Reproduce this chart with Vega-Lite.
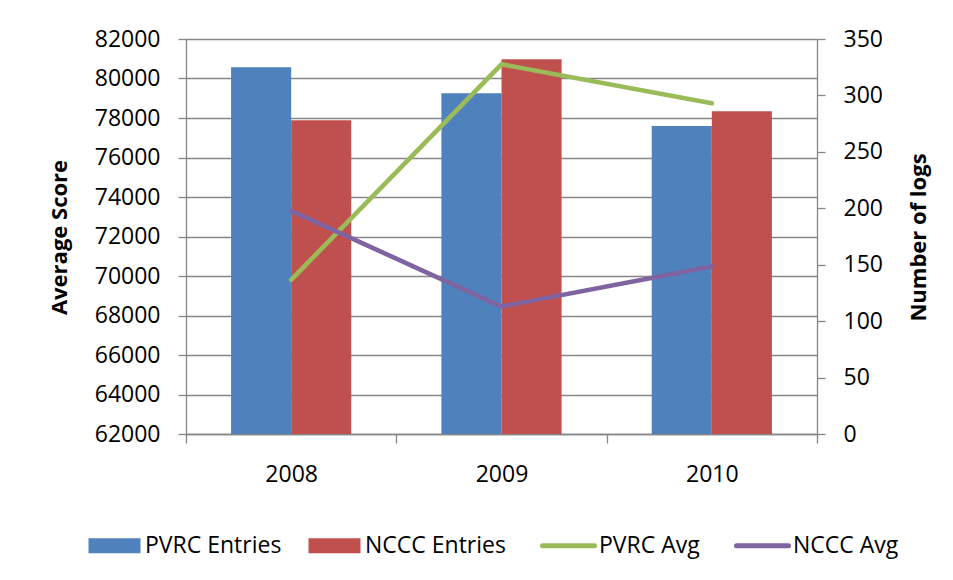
{
  "$schema": "https://vega.github.io/schema/vega-lite/v6.json",
  "width": 631,
  "height": 395,
  "autosize": "none",
  "padding": {"left": 186, "top": 39, "right": 136, "bottom": 146},
  "background": "white",
  "config": {
    "view": {"stroke": null},
    "font": "Open Sans",
    "axis": {
      "labelFont": "Open Sans",
      "labelFontSize": 23,
      "labelColor": "#000000",
      "titleFont": "Open Sans",
      "titleColor": "#000000",
      "domainColor": "#868686",
      "tickColor": "#868686",
      "gridColor": "#868686",
      "domainWidth": 1.3,
      "tickWidth": 1.3,
      "gridWidth": 1.3
    },
    "legend": {"labelFont": "Open Sans"}
  },
  "datasets": {
    "entries": [
      {"year": "2008", "series": "PVRC Entries", "logs": 325},
      {"year": "2008", "series": "NCCC Entries", "logs": 278},
      {"year": "2009", "series": "PVRC Entries", "logs": 302},
      {"year": "2009", "series": "NCCC Entries", "logs": 332},
      {"year": "2010", "series": "PVRC Entries", "logs": 273},
      {"year": "2010", "series": "NCCC Entries", "logs": 286}
    ],
    "averages": [
      {"year": "2008", "series": "PVRC Avg", "score": 69807},
      {"year": "2009", "series": "PVRC Avg", "score": 80720},
      {"year": "2010", "series": "PVRC Avg", "score": 78747},
      {"year": "2008", "series": "NCCC Avg", "score": 73298},
      {"year": "2009", "series": "NCCC Avg", "score": 68456},
      {"year": "2010", "series": "NCCC Avg", "score": 70480}
    ]
  },
  "layer": [
    {
      "data": {"name": "averages"},
      "mark": {"type": "line", "strokeWidth": 4.6, "strokeCap": "round", "opacity": 0},
      "encoding": {
        "x": {
          "field": "year", "type": "nominal",
          "scale": {"paddingInner": 0, "paddingOuter": 0},
          "axis": {
            "title": null, "labelAngle": 0, "tickBand": "extent", "tickSize": 9,
            "labelPadding": 20, "labelBaseline": "top", "grid": false
          }
        },
        "y": {
          "field": "score", "type": "quantitative",
          "scale": {"domain": [62000, 82000], "nice": false, "zero": false},
          "axis": {
            "orient": "left",
            "values": [62000, 64000, 66000, 68000, 70000, 72000, 74000, 76000, 78000, 80000, 82000],
            "format": "d",
            "grid": true,
            "tickSize": 8,
            "labelPadding": 18,
            "title": "Average Score",
            "titleFontSize": 22,
            "titleFontWeight": "bold",
            "titleAngle": -90,
            "titleAlign": "center",
            "titleBaseline": "alphabetic",
            "titleX": -120,
            "titleY": 198
          }
        },
        "color": {
          "field": "series", "type": "nominal",
          "scale": {
            "domain": ["PVRC Entries", "NCCC Entries", "PVRC Avg", "NCCC Avg"],
            "range": ["#4F81BD", "#C0504D", "#9BBB59", "#8064A2"]
          },
          "legend": {
            "orient": "none",
            "legendX": -83,
            "legendY": 495,
            "direction": "horizontal",
            "columns": 4,
            "title": null,
            "padding": 0,
            "symbolSize": 2704,
            "labelFontSize": 23,
            "labelColor": "#000000",
            "labelOffset": 19,
            "columnPadding": 26,
            "labelLimit": 300,
            "encode": {
              "symbols": {
                "update": {
                  "shape": {"signal": "indexof(['PVRC Avg','NCCC Avg'], datum.value) >= 0 ? 'M-1,0H1' : 'M-1,-0.29H1V0.29H-1Z'"},
                  "strokeWidth": {"signal": "indexof(['PVRC Avg','NCCC Avg'], datum.value) >= 0 ? 5 : 0"},
                  "fill": {"signal": "indexof(['PVRC Avg','NCCC Avg'], datum.value) >= 0 ? 'transparent' : scale('color', datum.value)"},
                  "stroke": {"signal": "scale('color', datum.value)"},
                  "strokeCap": {"value": "round"},
                  "opacity": {"value": 1}
                }
              }
            }
          }
        }
      }
    },
    {
      "data": {"name": "entries"},
      "mark": {"type": "bar"},
      "encoding": {
        "x": {"field": "year", "type": "nominal"},
        "xOffset": {
          "field": "series", "type": "nominal",
          "scale": {"domain": ["PVRC Entries", "NCCC Entries"], "paddingInner": 0, "paddingOuter": 0.75}
        },
        "y": {
          "field": "logs", "type": "quantitative",
          "scale": {"domain": [0, 350], "nice": false},
          "axis": {
            "orient": "right",
            "values": [0, 50, 100, 150, 200, 250, 300, 350],
            "grid": false,
            "tickSize": 8,
            "labelPadding": 18,
            "title": "Number of logs",
            "titleFontSize": 22,
            "titleFontWeight": "bold",
            "titleAngle": -90,
            "titleAlign": "center",
            "titleBaseline": "alphabetic",
            "titleX": 108,
            "titleY": 198
          }
        },
        "color": {"field": "series", "type": "nominal"}
      }
    },
    {
      "data": {"name": "averages"},
      "mark": {"type": "line", "strokeWidth": 4.6, "strokeCap": "round"},
      "encoding": {
        "x": {"field": "year", "type": "nominal"},
        "y": {"field": "score", "type": "quantitative", "scale": {"domain": [62000, 82000], "nice": false, "zero": false}, "axis": null},
        "color": {"field": "series", "type": "nominal"}
      }
    }
  ],
  "resolve": {"scale": {"y": "independent"}}
}
